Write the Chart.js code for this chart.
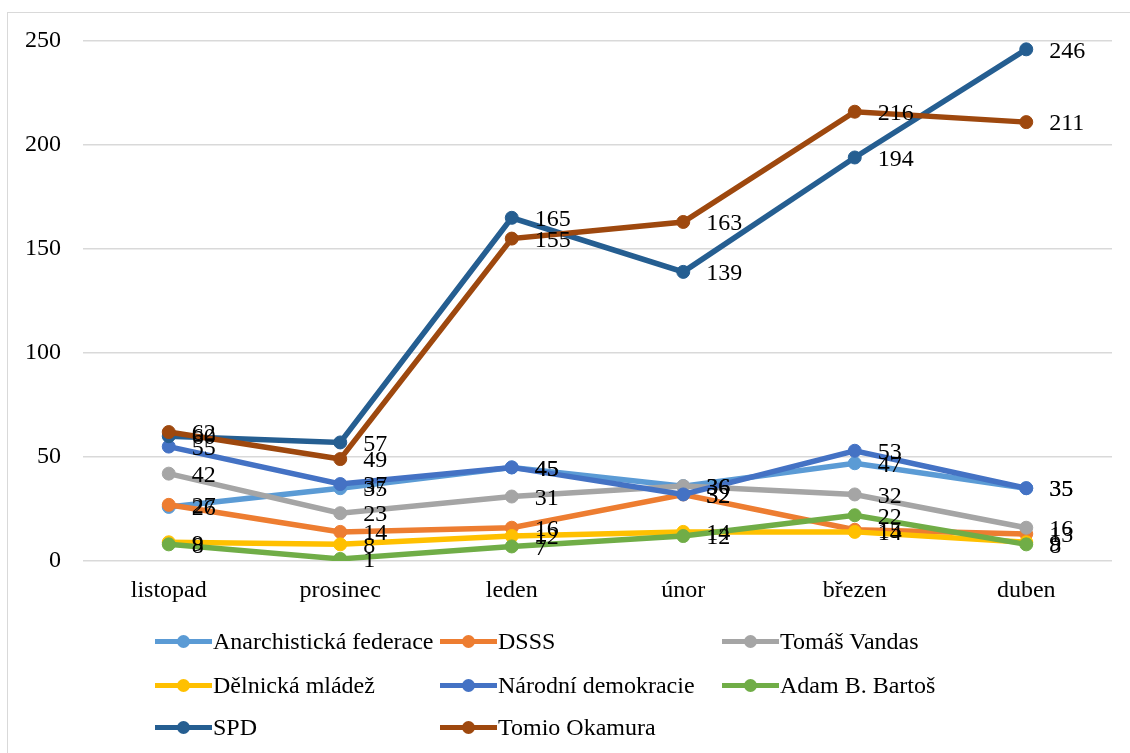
<!DOCTYPE html>
<html>
<head>
<meta charset="utf-8">
<script src="https://cdn.jsdelivr.net/npm/chart.js@4/dist/chart.umd.min.js"></script>
<style>
  html, body { margin: 0; padding: 0; background: #fff; }
  body { width: 1130px; height: 753px; position: relative; overflow: hidden; font-family: 'Liberation Serif', 'Times New Roman', serif; }
  #frame { position: absolute; left: 7px; top: 12px; width: 1200px; height: 800px; border: 1px solid #d9d9d9; }
  #wrap { position: absolute; left: 0; top: 0; width: 1130px; height: 620px; }
  #legend { position: absolute; left: 0; top: 0; width: 1130px; height: 753px; pointer-events: none; }
  .item { position: absolute; height: 30px; display: flex; align-items: center; font-size: 24px; color: #000; white-space: nowrap; }
  .mark { position: relative; width: 57px; height: 5px; margin-right: 1px; }
  .mark span { position: absolute; left: 22px; top: -4px; width: 13px; height: 13px; border-radius: 50%; }
</style>
</head>
<body>
<div id="frame"></div>
<div id="wrap"><canvas id="chart"></canvas></div>
<div id="legend"></div>
<script>
// data
const months = ['listopad', 'prosinec', 'leden', 'únor', 'březen', 'duben'];
const seriesNames = ['Anarchistická federace', 'DSSS', 'Tomáš Vandas', 'Dělnická mládež', 'Národní demokracie', 'Adam B. Bartoš', 'SPD', 'Tomio Okamura'];
const anarchisticka = [26, 35, 45, 36, 47, 35];
const dsss = [27, 14, 16, 32, 15, 13];
const vandas = [42, 23, 31, 36, 32, 16];
const delnicka = [9, 8, 12, 14, 14, 9];
const narodni = [55, 37, 45, 32, 53, 35];
const bartos = [8, 1, 7, 12, 22, 8];
const spd = [60, 57, 165, 139, 194, 246];
const okamura = [62, 49, 155, 163, 216, 211];
const yTicks = [0, 50, 100, 150, 200, 250];

const colors = ['#5B9BD5', '#ED7D31', '#A5A5A5', '#FFC000', '#4472C4', '#70AD47', '#255E91', '#9E480E'];
const values = [anarchisticka, dsss, vandas, delnicka, narodni, bartos, spd, okamura];
const serif = "'Liberation Serif', 'Times New Roman', serif";

const datasets = values.map(function(v, i) {
    return {
        label: seriesNames[i],
        data: v,
        borderColor: colors[i],
        backgroundColor: colors[i],
        pointBackgroundColor: colors[i],
        pointBorderColor: colors[i],
        borderWidth: 5.5,
        pointRadius: 6.5,
        pointBorderWidth: 1,
        tension: 0,
        order: values.length - i   // later series on top, like the original
    };
});

// value labels to the right of each point
const valueLabels = {
    id: 'valueLabels',
    afterDatasetsDraw(chart) {
        const ctx = chart.ctx;
        ctx.save();
        ctx.font = '24px ' + serif;
        ctx.fillStyle = '#000';
        ctx.textBaseline = 'middle';
        ctx.textAlign = 'left';
        chart.data.datasets.forEach(function(ds, i) {
            const meta = chart.getDatasetMeta(i);
            meta.data.forEach(function(pt, j) {
                ctx.fillText(String(ds.data[j]), pt.x + 23, pt.y + 2);
            });
        });
        ctx.restore();
    }
};

const chart = new Chart(document.getElementById('chart'), {
    type: 'line',
    data: { labels: months, datasets: datasets },
    plugins: [valueLabels],
    options: {
        responsive: true,
        maintainAspectRatio: false,
        animation: false,
        layout: { padding: { top: 41, right: 18, left: 0, bottom: 0 } },
        plugins: { legend: { display: false }, tooltip: { enabled: false } },
        scales: {
            x: {
                offset: true,
                grid: { display: false, drawTicks: false },
                border: { display: false },
                ticks: { color: '#000', font: { family: serif, size: 24 }, padding: 15, maxRotation: 0 },
                afterFit(scale) { scale.height = 59; }
            },
            y: {
                min: 0,
                max: 250,
                afterBuildTicks(scale) { scale.ticks = yTicks.map(function(v) { return { value: v }; }); },
                grid: { color: '#d9d9d9', lineWidth: 1.5, drawTicks: false },
                border: { display: false },
                ticks: { color: '#000', font: { family: serif, size: 24 }, padding: 22 },
                afterFit(scale) { scale.width = 83; }
            }
        }
    }
});

// legend in three columns, built from the datasets
const legendCols = [155, 440, 722];
const legendRows = [641, 685, 727];
const legend = document.getElementById('legend');
chart.data.datasets.forEach(function(ds, i) {
    const item = document.createElement('div');
    item.className = 'item';
    item.style.left = legendCols[i % 3] + 'px';
    item.style.top = (legendRows[Math.floor(i / 3)] - 15) + 'px';
    const mark = document.createElement('div');
    mark.className = 'mark';
    mark.style.background = ds.borderColor;
    const dot = document.createElement('span');
    dot.style.background = ds.borderColor;
    mark.appendChild(dot);
    item.appendChild(mark);
    item.appendChild(document.createTextNode(ds.label));
    legend.appendChild(item);
});
</script>
</body>
</html>
